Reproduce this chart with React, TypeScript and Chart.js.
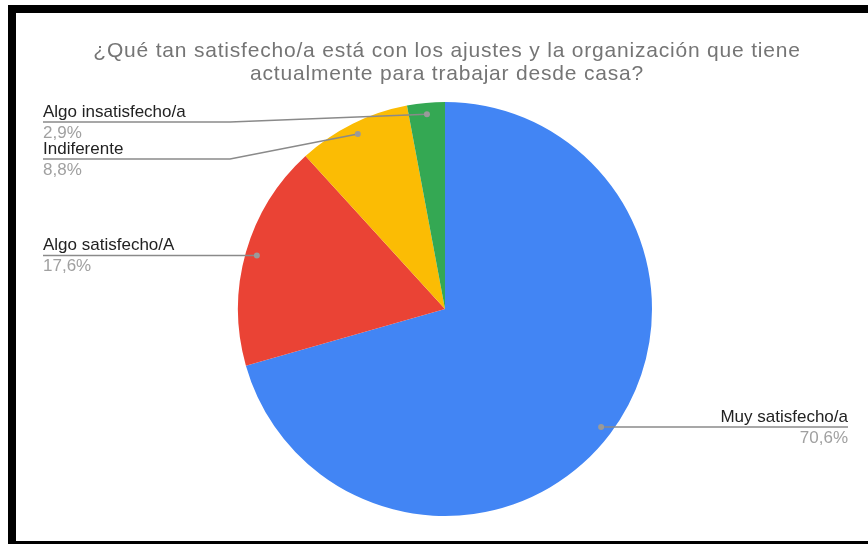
import React, { useEffect, useRef } from "react";
import { Chart, registerables } from "chart.js";

Chart.register(...registerables);

const TITLE_LINES = [
  "¿Qué tan satisfecho/a está con los ajustes y la organización que tiene",
  "actualmente para trabajar desde casa?",
];
const CATEGORIES = ["Muy satisfecho/a", "Algo satisfecho/A", "Indiferente", "Algo insatisfecho/a"];
const VALUES = [24, 6, 3, 1];
const PERCENT_LABELS = ["70,6%", "17,6%", "8,8%", "2,9%"];
const COLORS = ["#4285f4", "#ea4335", "#fbbc04", "#34a853"];

const FONT = "'Liberation Sans', Arial, sans-serif";

const titlePlugin = {
  id: "customTitle",
  afterDraw(chart: any) {
    const ctx = chart.ctx;
    ctx.save();
    ctx.font = `21px ${FONT}`;
    (ctx as any).letterSpacing = "0.8px";
    ctx.fillStyle = "#757575";
    ctx.textAlign = "center";
    ctx.textBaseline = "alphabetic";
    const cx = 431;
    TITLE_LINES.forEach((t, i) => ctx.fillText(t, cx, 44 + i * 23));
    ctx.restore();
  },
};

const leaderPlugin = {
  id: "leaderLabels",
  afterDraw(chart: any) {
    const ctx = chart.ctx;
    const meta = chart.getDatasetMeta(0);
    const items: any[] = [];
    meta.data.forEach((arc: any, i: number) => {
      const p = arc.getProps(["x", "y", "startAngle", "endAngle", "outerRadius"], true);
      const mid = (p.startAngle + p.endAngle) / 2;
      const r = p.outerRadius * 0.945;
      const dx = p.x + Math.cos(mid) * r;
      const dy = p.y + Math.sin(mid) * r;
      items.push({ i, dx, dy, left: dx < p.x });
    });
    const leftX = 27;
    const elbowX = 214;
    const rightX = 832;
    const minY = 109;
    const gap = 37;
    const left = items.filter((d) => d.left).sort((a, b) => a.dy - b.dy);
    let prev = -Infinity;
    left.forEach((d) => {
      d.ly = Math.max(d.dy, minY, prev + gap);
      prev = d.ly;
    });
    items.filter((d) => !d.left).forEach((d) => (d.ly = d.dy));

    ctx.save();
    items.forEach((d) => {
      ctx.strokeStyle = "#8a8a8a";
      ctx.lineWidth = 1.5;
      ctx.beginPath();
      if (d.left) {
        ctx.moveTo(leftX, d.ly);
        if (Math.abs(d.ly - d.dy) > 0.5) ctx.lineTo(elbowX, d.ly);
        ctx.lineTo(d.dx, d.dy);
      } else {
        ctx.moveTo(d.dx, d.dy);
        ctx.lineTo(rightX, d.ly);
      }
      ctx.stroke();
      ctx.fillStyle = "#9a9a9a";
      ctx.beginPath();
      ctx.arc(d.dx, d.dy, 3, 0, Math.PI * 2);
      ctx.fill();

      ctx.textAlign = d.left ? "left" : "right";
      ctx.textBaseline = "alphabetic";
      const tx = d.left ? leftX : rightX;
      ctx.font = `17px ${FONT}`;
      ctx.fillStyle = "#222222";
      ctx.fillText(CATEGORIES[d.i], tx, d.ly - 5);
      ctx.fillStyle = "#a0a0a0";
      ctx.fillText(PERCENT_LABELS[d.i], tx, d.ly + 16);
    });
    ctx.restore();
  },
};

export default function App() {
  const ref = useRef<HTMLCanvasElement>(null);
  useEffect(() => {
    if (!ref.current) return;
    const chart = new Chart(ref.current, {
      type: "pie",
      data: {
        labels: CATEGORIES,
        datasets: [
          {
            data: VALUES,
            backgroundColor: COLORS,
            borderWidth: 0,
          },
        ],
      },
      options: {
        responsive: false,
        animation: false,
        devicePixelRatio: 1,
        layout: { padding: { top: 89, bottom: 25, left: 222, right: 216 } },
        plugins: {
          legend: { display: false },
          title: { display: false },
          tooltip: { enabled: false },
        },
      },
      plugins: [titlePlugin, leaderPlugin],
    });
    return () => chart.destroy();
  }, []);
  return (
    <div
      style={{
        position: "absolute",
        left: 8,
        top: 5,
        width: 852,
        height: 528,
        borderTop: "8px solid #000",
        borderLeft: "8px solid #000",
        borderBottom: "3px solid #000",
        background: "#fff",
      }}
    >
      <canvas ref={ref} width={852} height={528} style={{ display: "block" }} />
    </div>
  );
}
